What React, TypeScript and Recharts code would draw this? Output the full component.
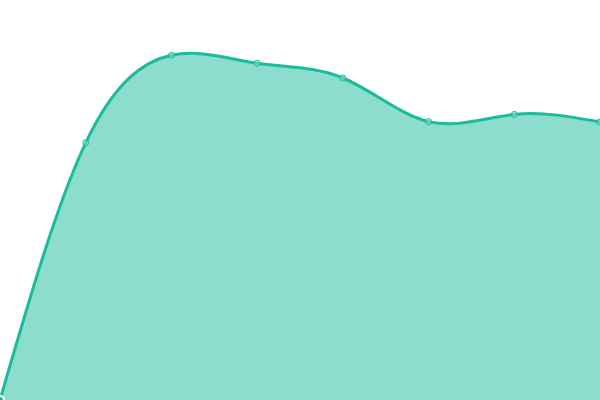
import { AreaChart, Area, XAxis, YAxis } from "recharts";

const categories = ["P1", "P2", "P3", "P4", "P5", "P6", "P7", "P8"];
const values = [0, 64.3, 86.2, 84.2, 80.5, 69.6, 71.4, 69.5];

const data = categories.map((name, i) => ({ name, value: values[i] }));

export default function App() {
  return (
    <div style={{ position: "absolute", left: 0, top: 0, width: 600, height: 400 }}>
      <AreaChart width={600} height={400} data={data} margin={{ top: 0, right: 0, bottom: 0, left: 0 }}>
        <XAxis dataKey="name" hide />
        <YAxis hide domain={[0, 100]} />
        <Area
          type="natural"
          dataKey="value"
          stroke="#1abc9c"
          strokeWidth={3}
          fill="#1abc9c"
          fillOpacity={0.5}
          dot={{ r: 3, fill: "#8cddcd", stroke: "#1abc9c", strokeWidth: 1 }}
          isAnimationActive={false}
        />
      </AreaChart>
    </div>
  );
}
